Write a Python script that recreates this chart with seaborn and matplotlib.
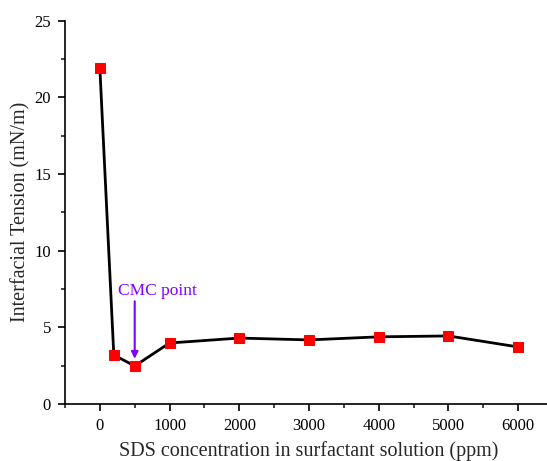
import matplotlib
matplotlib.use("Agg")
import matplotlib.pyplot as plt
import seaborn as sns
import pandas as pd
from matplotlib.ticker import MultipleLocator

concentration = [0, 200, 500, 1000, 2000, 3000, 4000, 5000, 6000]
tension = [21.9, 3.2, 2.48, 3.98, 4.3, 4.18, 4.38, 4.44, 3.72]
x_label = "SDS concentration in surfactant solution (ppm)"
y_label = "Interfacial Tension (mN/m)"
annot_text = "CMC point"
cmc_x = 500
cmc_y = 2.48

df = pd.DataFrame({"c": concentration, "t": tension})

sns.set_style("white")
plt.rcParams["font.family"] = ["Liberation Serif", "DejaVu Serif"]

fig = plt.figure(figsize=(5.47, 4.61), dpi=100)
W, H = 547, 461
x0 = 65
px_per_1000 = 69.7
x_right = 100 + 6.5 * px_per_1000
ax = fig.add_axes([x0 / W, 1 - 404 / H, (x_right - x0) / W, (404 - 20.7) / H])

sns.lineplot(data=df, x="c", y="t", ax=ax, color="black", linewidth=2,
             marker="s", markersize=7, markerfacecolor="red",
             markeredgecolor="red", zorder=3)

ax.set_xlim(-500, 6500)
ax.set_ylim(0, 25)
ax.xaxis.set_major_locator(MultipleLocator(1000))
ax.xaxis.set_minor_locator(MultipleLocator(500))
ax.yaxis.set_major_locator(MultipleLocator(5))
ax.yaxis.set_minor_locator(MultipleLocator(2.5))

for s in ["top", "right"]:
    ax.spines[s].set_visible(False)
for s in ["left", "bottom"]:
    ax.spines[s].set_color("black")
    ax.spines[s].set_linewidth(1.2)

ax.tick_params(axis="both", which="major", direction="out", length=5, width=1.2,
               labelsize=12, colors="black", bottom=True, left=True, pad=5)
ax.tick_params(axis="both", which="minor", direction="out", length=3, width=1.2,
               bottom=True, left=True)

ax.set_xlabel(x_label, fontsize=14.5, labelpad=5.5)
ax.set_ylabel(y_label, fontsize=14.5, labelpad=3)

ax.text(cmc_x + 320, 7.37, annot_text, ha="center", va="center",
        color="#8000FF", fontsize=12.5)
ax.annotate("", xy=(cmc_x, 2.95), xytext=(cmc_x, 6.7),
            arrowprops=dict(arrowstyle="-|>", color="#8000FF", lw=1.5,
                            mutation_scale=10, shrinkA=0, shrinkB=0))

fig.savefig("out.png", dpi=100)
